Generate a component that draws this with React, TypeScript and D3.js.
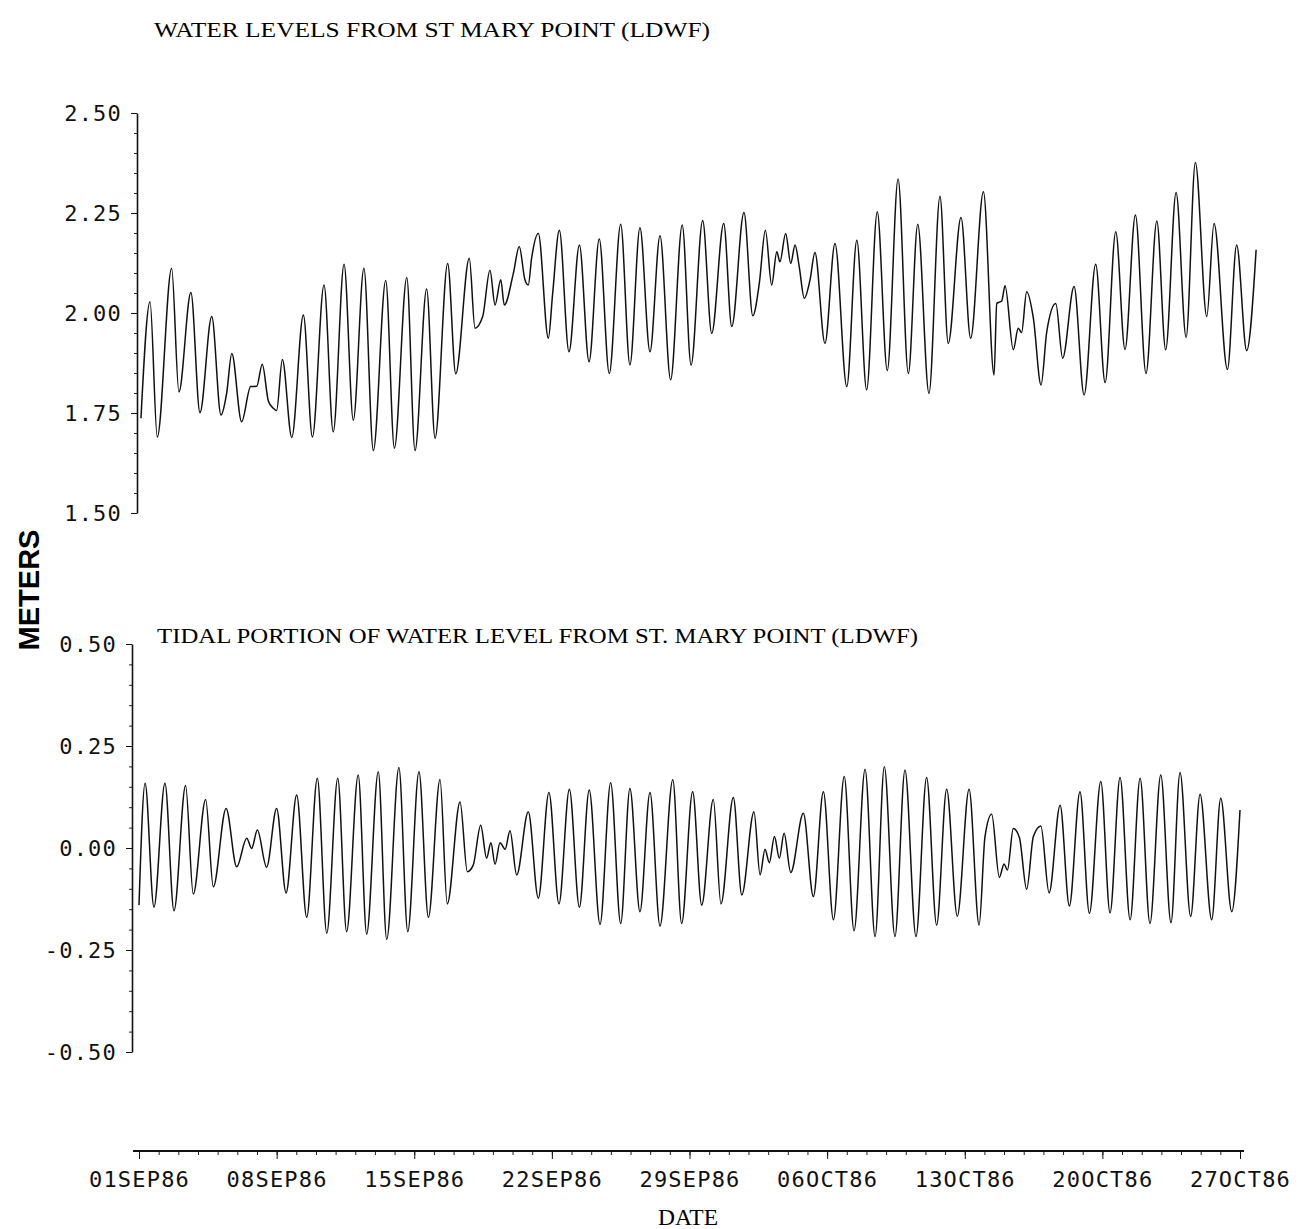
import React, { useEffect, useRef } from "react";
import * as d3 from "d3";

// days after 01SEP86 00:00 and water level (m), read at peaks / troughs
const topDays = [
  0.1, 0.56, 0.93, 1.66, 2.03, 2.64, 3.1, 3.7, 4.17, 4.46, 4.72, 5.22, 5.68, 5.99, 6.27, 6.58, 6.83, 7.0,
  7.29, 7.77, 8.36, 8.82, 9.41, 9.88, 10.43, 10.9, 11.44, 11.92, 12.55, 12.99, 13.62, 14.04, 14.63, 15.06,
  15.7, 16.11, 16.8, 17.09, 17.48, 17.85, 18.11, 18.4, 18.58, 19.04, 19.34, 19.63, 19.8, 19.97, 20.31,
  20.82, 21.04, 21.38, 21.87, 22.4, 22.89, 23.41, 23.92, 24.5, 24.97, 25.48, 25.99, 26.5, 27.04, 27.63,
  28.08, 28.67, 29.13, 29.74, 30.15, 30.77, 31.22, 31.55, 31.86, 32.18, 32.44, 32.6, 32.89, 33.15, 33.37,
  33.58, 33.84, 34.13, 34.38, 34.89, 35.4, 36.0, 36.51, 37.01, 37.55, 38.06, 38.61, 39.13, 39.61, 40.18,
  40.74, 41.16, 41.81, 42.3, 42.95, 43.49, 43.63, 43.88, 44.05, 44.47, 44.72, 44.89, 45.15, 45.49, 45.88,
  46.17, 46.63, 46.98, 47.56, 48.07, 48.66, 49.14, 49.68, 50.15, 50.68, 51.22, 51.77, 52.22, 52.75, 53.26,
  53.73, 54.31, 54.68, 55.36, 55.83, 56.34, 56.82,
];
const topLevels = [
  1.737, 2.028, 1.69, 2.112, 1.803, 2.051, 1.751, 1.991, 1.745, 1.8, 1.899, 1.728, 1.816, 1.817, 1.872,
  1.78, 1.762, 1.756, 1.884, 1.689, 1.995, 1.69, 2.07, 1.703, 2.122, 1.732, 2.112, 1.656, 2.081, 1.662,
  2.089, 1.656, 2.06, 1.687, 2.124, 1.848, 2.137, 1.962, 1.991, 2.107, 2.02, 2.083, 2.02, 2.099, 2.166,
  2.083, 2.07, 2.137, 2.199, 1.937, 2.049, 2.207, 1.903, 2.17, 1.878, 2.185, 1.849, 2.222, 1.87, 2.213,
  1.903, 2.193, 1.833, 2.22, 1.87, 2.231, 1.949, 2.224, 1.966, 2.251, 1.993, 2.074, 2.207, 2.07, 2.153,
  2.128, 2.199, 2.124, 2.17, 2.116, 2.037, 2.083, 2.151, 1.924, 2.174, 1.816, 2.182, 1.808, 2.253, 1.856,
  2.335, 1.849, 2.222, 1.799, 2.292, 1.924, 2.239, 1.937, 2.303, 1.845, 2.024, 2.03, 2.068, 1.908, 1.962,
  1.951, 2.053, 1.987, 1.82, 1.953, 2.024, 1.887, 2.066, 1.795, 2.122, 1.826, 2.203, 1.909, 2.245, 1.849,
  2.23, 1.908, 2.301, 1.939, 2.376, 1.991, 2.224, 1.859, 2.17, 1.906, 2.158,
];

const tideDays = [
  0.0, 0.31, 0.76, 1.32, 1.78, 2.37, 2.76, 3.39, 3.78, 4.43, 4.97, 5.48, 5.73, 6.02, 6.49, 7.0, 7.48, 8.02,
  8.53, 9.07, 9.55, 10.11, 10.56, 11.15, 11.58, 12.17, 12.6, 13.22, 13.67, 14.24, 14.72, 15.31, 15.68,
  16.33, 16.7, 17.0, 17.38, 17.68, 17.9, 18.11, 18.36, 18.62, 18.87, 19.21, 19.8, 20.31, 20.85, 21.36,
  21.89, 22.4, 22.9, 23.45, 23.99, 24.5, 24.97, 25.48, 25.99, 26.5, 27.15, 27.6, 28.16, 28.62, 29.21, 29.6,
  30.23, 30.66, 31.28, 31.59, 31.84, 32.06, 32.32, 32.57, 32.81, 33.15, 33.79, 34.3, 34.81, 35.32, 35.87,
  36.37, 36.93, 37.44, 37.91, 38.45, 38.96, 39.52, 40.06, 40.57, 41.08, 41.62, 42.22, 42.73, 43.03, 43.37,
  43.76, 44.0, 44.17, 44.47, 44.78, 45.15, 45.49, 45.87, 46.29, 46.85, 47.32, 47.86, 48.34, 48.92, 49.39,
  49.9, 50.41, 50.92, 51.42, 51.97, 52.49, 52.95, 53.49, 53.97, 54.56, 55.02, 55.58, 56.0,
];
const tideLevels = [
  -0.14, 0.159, -0.145, 0.159, -0.154, 0.153, -0.113, 0.119, -0.095, 0.097, -0.046, 0.024, -0.001, 0.044,
  -0.047, 0.097, -0.11, 0.13, -0.17, 0.171, -0.209, 0.171, -0.205, 0.179, -0.211, 0.187, -0.224, 0.197,
  -0.205, 0.187, -0.17, 0.168, -0.137, 0.113, -0.058, -0.042, 0.056, -0.025, 0.013, -0.04, 0.013, -0.003,
  0.042, -0.066, 0.089, -0.123, 0.136, -0.137, 0.144, -0.145, 0.142, -0.187, 0.16, -0.185, 0.146, -0.156,
  0.136, -0.191, 0.167, -0.185, 0.138, -0.14, 0.119, -0.137, 0.124, -0.115, 0.089, -0.066, -0.003, -0.036,
  0.028, -0.025, 0.036, -0.06, 0.085, -0.119, 0.138, -0.176, 0.175, -0.203, 0.193, -0.217, 0.199, -0.217,
  0.191, -0.217, 0.173, -0.189, 0.144, -0.167, 0.144, -0.189, 0.028, 0.083, -0.072, -0.039, -0.054, 0.048,
  0.026, -0.101, 0.028, 0.054, -0.11, 0.105, -0.142, 0.138, -0.16, 0.163, -0.159, 0.173, -0.176, 0.171,
  -0.185, 0.179, -0.183, 0.185, -0.168, 0.132, -0.176, 0.122, -0.156, 0.093,
];

const xTickDates = [
  "1986-09-01", "1986-09-08", "1986-09-15", "1986-09-22", "1986-09-29",
  "1986-10-06", "1986-10-13", "1986-10-20", "1986-10-27",
];
const topTicks = [1.5, 1.75, 2.0, 2.25, 2.5];
const tideTicks = [-0.5, -0.25, 0.0, 0.25, 0.5];

const START = Date.UTC(1986, 8, 1);
const toDate = (d: number) => new Date(START + d * 864e5);
const parse = d3.utcParse("%Y-%m-%d");
const fmtDate = d3.utcFormat("%d%b%y");
const fmtNum = d3.formatLocale({ decimal: ".", thousands: ",", grouping: [3], currency: ["", ""], minus: "-" }).format(".2f");

const MONO = "'DejaVu Sans Mono', monospace";
const SERIF = "'Liberation Serif', serif";

export default function App() {
  const ref = useRef<SVGSVGElement>(null);

  useEffect(() => {
    const svg = d3.select(ref.current);
    svg.selectAll("*").remove();

    const x = d3.scaleUtc().domain([toDate(0), toDate(56)]).range([139, 1240]);
    const yTop = d3.scaleLinear().domain([1.5, 2.5]).range([513, 113]);
    const yTide = d3.scaleLinear().domain([-0.5, 0.5]).range([1052, 644]);

    const styleText = (g: any) =>
      g.selectAll("text").attr("font-family", MONO).attr("font-size", 22).attr("letter-spacing", 1.2).attr("fill", "#111");

    // y axes
    const yAxis = (scale: any, ticks: number[], xPos: number) => {
      const minor = d3.range(0, 21).map((i) => ticks[0] + i * 0.05);
      svg.append("g").attr("transform", `translate(${xPos},0)`)
        .call(d3.axisLeft(scale).tickValues(minor).tickSize(3).tickFormat(() => ""))
        .call((g) => g.select(".domain").remove())
        .selectAll("line").attr("stroke", "#222");
      const g = svg.append("g").attr("transform", `translate(${xPos},0)`)
        .call(d3.axisLeft(scale).tickValues(ticks).tickSize(6).tickSizeOuter(0).tickPadding(9).tickFormat((d: any) => fmtNum(d)));
      g.select(".domain").attr("stroke", "#111").attr("stroke-width", 1.6);
      g.selectAll("line").attr("stroke", "#111");
      styleText(g);
    };
    yAxis(yTop, topTicks, 137);
    yAxis(yTide, tideTicks, 132);

    // x axis
    const dates = xTickDates.map((s) => parse(s) as Date);
    const axisY = 1151;
    svg.append("g").attr("transform", `translate(0,${axisY})`)
      .call(d3.axisBottom(x).ticks(d3.utcDay.every(1)).tickSize(4).tickFormat(() => ""))
      .call((g) => g.select(".domain").remove())
      .selectAll("line").attr("stroke", "#222");
    const gx = svg.append("g").attr("transform", `translate(0,${axisY})`)
      .call(d3.axisBottom(x).tickValues(dates).tickSize(8).tickFormat((d: any) => fmtDate(d).toUpperCase()));
    gx.select(".domain").remove();
    gx.selectAll("line").attr("stroke", "#111");
    styleText(gx);
    gx.selectAll("text").attr("y", 36).attr("dy", null);
    svg.append("line")
      .attr("x1", x(toDate(0)) - 6).attr("x2", x(toDate(56)) + 4)
      .attr("y1", axisY).attr("y2", axisY)
      .attr("stroke", "#111").attr("stroke-width", 1.8);

    // series
    const line = (ys: any) =>
      d3.line<[number, number]>()
        .x((d) => x(toDate(d[0])))
        .y((d) => ys(d[1]))
        .curve(d3.curveMonotoneX);

    svg.append("path")
      .datum(topDays.map((d, i) => [d, topLevels[i]] as [number, number]))
      .attr("d", line(yTop))
      .attr("fill", "none").attr("stroke", "#111").attr("stroke-width", 1.5);

    svg.append("path")
      .datum(tideDays.map((d, i) => [d, tideLevels[i]] as [number, number]))
      .attr("d", line(yTide))
      .attr("fill", "none").attr("stroke", "#111").attr("stroke-width", 1.5);

    // titles / labels
    svg.append("text").attr("x", 154).attr("y", 37)
      .attr("font-family", SERIF).attr("font-size", 21)
      .attr("textLength", 556).attr("lengthAdjust", "spacingAndGlyphs")
      .text("WATER LEVELS FROM ST  MARY POINT (LDWF)");
    svg.append("text").attr("x", 157).attr("y", 643)
      .attr("font-family", SERIF).attr("font-size", 22)
      .attr("textLength", 761).attr("lengthAdjust", "spacingAndGlyphs")
      .text("TIDAL PORTION OF WATER LEVEL FROM ST. MARY POINT (LDWF)");
    svg.append("text").attr("transform", "translate(39,590) rotate(-90)")
      .attr("text-anchor", "middle")
      .attr("font-family", "'Liberation Sans', Arial, sans-serif").attr("font-weight", "bold").attr("font-size", 29)
      .text("METERS");
    svg.append("text").attr("x", 688).attr("y", 1225).attr("text-anchor", "middle")
      .attr("font-family", SERIF).attr("font-size", 24)
      .attr("textLength", 60).attr("lengthAdjust", "spacingAndGlyphs")
      .text("DATE");
  }, []);

  return (
    <svg ref={ref} width={1310} height={1229}
      style={{ position: "absolute", left: 0, top: 0, background: "#fff" }} />
  );
}
